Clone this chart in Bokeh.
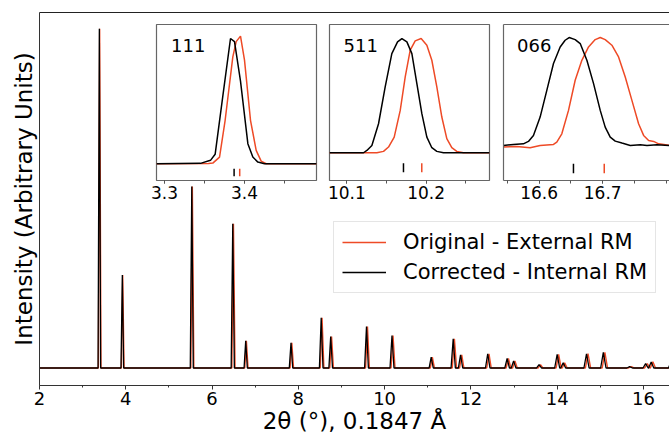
from bokeh.plotting import figure
from bokeh.models import (Range1d, LinearAxis, FixedTicker, SingleIntervalTicker,
                          PrintfTickFormatter, Legend, LegendItem, Label)
from bokeh.embed import file_html
from bokeh.resources import INLINE

ORANGE = "#ee4a26"
BLACK = "#000000"
FONT = "DejaVu Sans"

# ---------------- main pattern: reflections ----------------
peak_pos_corrected = [3.387, 3.92, 5.53, 6.48, 6.78, 7.83, 8.53, 8.75, 9.58, 10.171,
                      11.08, 11.59, 11.76, 12.39, 12.84, 12.99, 13.58, 14.00, 14.14,
                      14.68, 15.07, 15.68, 16.05, 16.18, 16.647]
peak_pos_original = [3.395, 3.929, 5.543, 6.496, 6.796, 7.849, 8.550, 8.771, 9.603, 10.195,
                     11.107, 11.618, 11.788, 12.420, 12.871, 13.021, 13.613, 14.034, 14.174,
                     14.715, 15.106, 15.718, 16.089, 16.219, 16.700]
peak_height = [100, 27.4, 53.5, 42.5, 8.0, 7.4, 14.8, 9.3, 12.2, 9.6,
               3.2, 8.6, 3.9, 4.2, 2.8, 2.1, 1.0, 4.0, 1.5,
               4.2, 4.6, 0.4, 1.3, 1.8, 2.0]
peak_halfbase = [0.030, 0.031, 0.035, 0.037, 0.038, 0.040, 0.042, 0.042, 0.044, 0.046,
                 0.048, 0.050, 0.050, 0.052, 0.054, 0.054, 0.056, 0.058, 0.058,
                 0.060, 0.062, 0.064, 0.060, 0.060, 0.068]

# ---------------- inset profiles (normalised) ----------------
inset_names = ["111", "511", "066"]

i111_x_corr = [3.29, 3.345, 3.3575, 3.3633, 3.3729, 3.3825, 3.3875, 3.395, 3.4042, 3.4104, 3.4167, 3.425, 3.49]
i111_y_corr = [0.0, 0.003, 0.027, 0.075, 0.54, 1.0, 0.975, 0.66, 0.16, 0.053, 0.013, 0.0, 0.0]
i111_x_orig = [3.29, 3.355, 3.3604, 3.3688, 3.3758, 3.3854, 3.3896, 3.395, 3.4, 3.4075, 3.4146, 3.4208, 3.4271, 3.49]
i111_y_orig = [0.0, 0.002, 0.005, 0.053, 0.347, 0.853, 0.975, 1.019, 0.827, 0.347, 0.107, 0.021, 0.0, 0.0]
i111_ticks = [3.387, 3.394]

i511_x_corr = [10.078, 10.121, 10.1252, 10.1315, 10.1399, 10.1483, 10.1567, 10.1639, 10.1694, 10.1757,
               10.182, 10.1883, 10.1946, 10.2009, 10.2072, 10.2135, 10.2219, 10.28]
i511_y_corr = [0, 0, 0.02, 0.064, 0.254, 0.576, 0.868, 0.971, 1.0, 0.971,
               0.868, 0.605, 0.342, 0.137, 0.044, 0.012, 0, 0]
i511_x_orig = [10.078, 10.1378, 10.1462, 10.1525, 10.1597, 10.1673, 10.1736, 10.1799, 10.1862, 10.1937,
               10.2009, 10.2072, 10.2135, 10.2198, 10.2261, 10.2324, 10.2387, 10.2471, 10.28]
i511_y_orig = [0, 0, 0.012, 0.05, 0.137, 0.371, 0.664, 0.898, 0.98, 1.0,
               0.942, 0.81, 0.576, 0.313, 0.123, 0.044, 0.012, 0, 0]
i511_ticks = [10.1714, 10.1945]

i066_x_corr = [16.5438, 16.5596, 16.5753, 16.5832, 16.5911, 16.6016, 16.6121, 16.6226, 16.6331, 16.6409,
               16.6472, 16.6567, 16.6646, 16.6751, 16.6856, 16.6961, 16.7039, 16.7118, 16.7197, 16.7302,
               16.7433, 16.7591, 16.7696, 16.7853, 16.805]
i066_y_corr = [0.0, 0.009, 0.015, 0.037, 0.093, 0.263, 0.511, 0.759, 0.913, 0.975,
               1.0, 0.981, 0.944, 0.789, 0.573, 0.325, 0.17, 0.077, 0.04, 0.022,
               0.0, 0.006, 0.0, 0.006, 0.0]
i066_x_orig = [16.5438, 16.5648, 16.5858, 16.6016, 16.6226, 16.6278, 16.6357, 16.6462, 16.6567, 16.6672,
               16.6777, 16.6882, 16.6961, 16.7039, 16.7144, 16.7249, 16.7354, 16.7459, 16.7564, 16.7643,
               16.7722, 16.7801, 16.7879, 16.805]
i066_y_orig = [-0.015, -0.009, -0.022, 0.0, 0.009, 0.031, 0.108, 0.325, 0.604, 0.789,
               0.913, 0.981, 1.0, 0.981, 0.929, 0.82, 0.635, 0.418, 0.201, 0.093,
               0.046, 0.037, 0.015, 0.0]
i066_ticks = [16.654, 16.7024]

x_label_text = "2θ (°), 0.1847 Å"
y_label_text = "Intensity (Arbitrary Units)"


def stick_profile(positions, heights, halfbase, x_start, x_end):
    xs, ys = [x_start], [0.0]
    for pos, h, w in sorted(zip(positions, heights, halfbase)):
        xs += [pos - w, pos, pos + w]
        ys += [0.0, h, 0.0]
    xs.append(x_end)
    ys.append(0.0)
    return xs, ys


# ---------------- main figure ----------------
p = figure(width=669, height=439, x_range=Range1d(2, 16.604), y_range=Range1d(-5.16, 104.8),
           output_backend="svg", toolbar_location=None,
           min_border_left=39, min_border_right=0, min_border_top=12, min_border_bottom=54)
p.grid.visible = False
p.outline_line_color = None
p.background_fill_color = "white"

xo, yo = stick_profile(peak_pos_original, peak_height, peak_halfbase, 2.0, 17.0)
xc, yc = stick_profile(peak_pos_corrected, peak_height, peak_halfbase, 2.0, 17.0)
r_orig = p.line(xo, yo, line_color=ORANGE, line_width=1.4)
r_corr = p.line(xc, yc, line_color=BLACK, line_width=1.3)

xa = p.below[0]
xa.ticker = SingleIntervalTicker(interval=2, num_minor_ticks=2)
xa.axis_label = x_label_text
xa.axis_label_text_font = FONT
xa.axis_label_text_font_size = "23px"
xa.axis_label_text_font_style = "normal"
xa.axis_label_text_color = BLACK
xa.axis_label_standoff = 0
xa.major_label_text_font = FONT
xa.major_label_text_font_size = "18px"
xa.major_label_text_color = BLACK
xa.major_label_standoff = 2
xa.major_tick_out = 4
xa.major_tick_in = 0
xa.minor_tick_out = 2
xa.minor_tick_in = 0
xa.axis_line_color = "#333333"
xa.major_tick_line_color = "#333333"
xa.minor_tick_line_color = "#333333"

ya = p.left[0]
ya.ticker = FixedTicker(ticks=[])
ya.minor_tick_line_color = None
ya.major_tick_line_color = None
ya.axis_label = y_label_text
ya.axis_label_text_font = FONT
ya.axis_label_text_font_size = "23px"
ya.axis_label_text_font_style = "normal"
ya.axis_label_text_color = BLACK
ya.axis_label_standoff = 3
ya.axis_line_color = "#333333"

top_axis = LinearAxis(ticker=FixedTicker(ticks=[]), axis_line_color="#222222",
                      major_tick_line_color=None, minor_tick_line_color=None)
p.add_layout(top_axis, "above")

legend = Legend(items=[LegendItem(label="Original - External RM", renderers=[r_orig]),
                       LegendItem(label="Corrected - Internal RM", renderers=[r_corr])],
                location=(294, 92), label_text_font=FONT, label_text_font_size="21px",
                label_text_color=BLACK,
                glyph_width=44, glyph_height=24, label_height=24, label_standoff=17,
                padding=8, spacing=6, border_line_color="#cccccc", border_line_width=1,
                background_fill_color="white", background_fill_alpha=1.0)
p.add_layout(legend)


# ---------------- insets ----------------
def make_inset(name, xr, yr, xs_c, ys_c, xs_o, ys_o, ticks, tick_y, major, minor,
               left, top, frame_w, frame_h, right_border, text_dx):
    q = figure(width=10 + frame_w + (10 if right_border else 0), height=2 + frame_h + 26,
               x_range=Range1d(*xr), y_range=Range1d(*yr),
               output_backend="svg", toolbar_location=None, y_axis_location=None,
               min_border_left=10, min_border_right=(10 if right_border else 0),
               min_border_top=2, min_border_bottom=26,
               styles={"position": "absolute", "left": f"{left}px", "top": f"{top}px"})
    q.grid.visible = False
    q.border_fill_color = None
    q.background_fill_color = "white"
    ax = q.below[0]
    ax.ticker = FixedTicker(ticks=major, minor_ticks=minor)
    ax.formatter = PrintfTickFormatter(format="%.1f")
    ax.major_label_text_font = FONT
    ax.major_label_text_font_size = "17px"
    ax.major_label_text_color = BLACK
    ax.major_label_standoff = 2
    ax.major_tick_out = 3
    ax.major_tick_in = 0
    ax.minor_tick_out = 3
    ax.minor_tick_in = 0
    ax.axis_line_color = "#666666" if not right_border else None
    ax.axis_line_width = 1.2
    ax.major_tick_line_color = "#555555"
    ax.minor_tick_line_color = "#555555"
    if right_border:
        q.outline_line_color = "#666666"
        q.outline_line_width = 1.2
    else:
        q.outline_line_color = None
        for loc in ("left", "above"):
            q.add_layout(LinearAxis(ticker=FixedTicker(ticks=[]), axis_line_color="#666666",
                                    axis_line_width=1.2, major_tick_line_color=None,
                                    minor_tick_line_color=None), loc)
    q.line(xs_o, ys_o, line_color=ORANGE, line_width=1.5)
    q.line(xs_c, ys_c, line_color=BLACK, line_width=1.5)
    q.segment(x0=[ticks[0]], y0=[tick_y[0]], x1=[ticks[0]], y1=[tick_y[1]],
              line_color=BLACK, line_width=1.5)
    q.segment(x0=[ticks[1]], y0=[tick_y[0]], x1=[ticks[1]], y1=[tick_y[1]],
              line_color=ORANGE, line_width=1.5)
    lx = xr[0] + text_dx / frame_w * (xr[1] - xr[0])
    ly = yr[1] - 20.5 / frame_h * (yr[1] - yr[0])
    q.add_layout(Label(x=lx, y=ly, text=name, text_font=FONT, text_font_size="18px",
                       text_color=BLACK, text_baseline="middle", text_align="left"))
    return q


in1 = make_inset(inset_names[0], (3.29, 3.49), (-0.134, 1.112),
                 i111_x_corr, i111_y_corr, i111_x_orig, i111_y_orig, i111_ticks, (-0.04, -0.10),
                 [3.3, 3.4], [3.3, 3.35, 3.4, 3.45], 146, 22, 160, 156, True, 14.5)
in2 = make_inset(inset_names[1], (10.078, 10.28), (-0.243, 1.123),
                 i511_x_corr, i511_y_corr, i511_x_orig, i511_y_orig, i511_ticks, (-0.091, -0.17),
                 [10.1, 10.2], [10.1, 10.15, 10.2, 10.25], 319, 22, 160, 156, True, 14)
in3 = make_inset(inset_names[2], (16.544, 16.805), (-0.325, 1.121),
                 i066_x_corr, i066_y_corr, i066_x_orig, i066_y_orig, i066_ticks, (-0.17, -0.257),
                 [16.6, 16.7], [16.55, 16.6, 16.65, 16.7, 16.75, 16.8], 493, 22, 166, 156, False, 13.5)

open("out.html", "w").write(file_html([p, in1, in2, in3], INLINE))
